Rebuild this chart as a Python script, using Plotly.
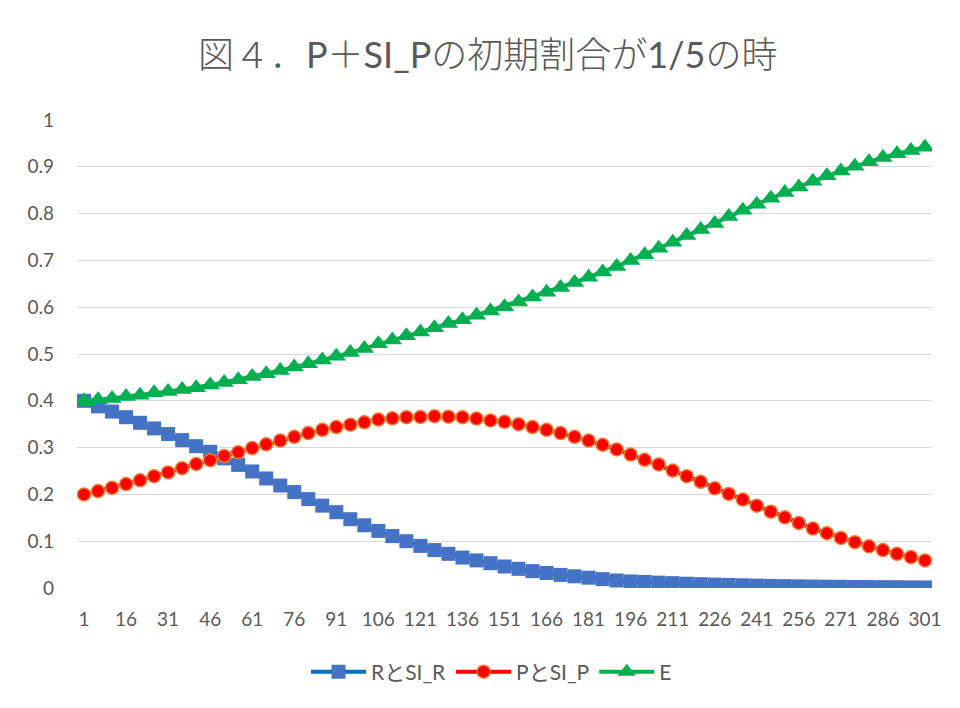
import plotly.graph_objects as go

# Time steps (every 5th step from 1 to 301)
steps = list(range(1, 302, 5))
tick_steps = list(range(1, 302, 15))

# R + SI_R share
r_vals = [0.400, 0.388, 0.377, 0.365, 0.353, 0.341, 0.329, 0.316, 0.303, 0.291,
          0.277, 0.263, 0.249, 0.234, 0.219, 0.205, 0.190, 0.176, 0.162, 0.147,
          0.134, 0.122, 0.111, 0.100, 0.090, 0.081, 0.073, 0.065, 0.059, 0.053,
          0.046, 0.041, 0.036, 0.032, 0.028, 0.025, 0.022, 0.019, 0.016, 0.014,
          0.013, 0.0115, 0.0103, 0.0092, 0.0082, 0.0073, 0.0065, 0.0058, 0.0051, 0.0045,
          0.0040, 0.0036, 0.0032, 0.0028, 0.0025, 0.0022, 0.0020, 0.0018, 0.0016, 0.0014,
          0.0012]

# P + SI_P share
p_vals = [0.200, 0.207, 0.214, 0.222, 0.230, 0.239, 0.247, 0.256, 0.265, 0.273,
          0.282, 0.290, 0.299, 0.307, 0.315, 0.323, 0.331, 0.338, 0.344, 0.349,
          0.354, 0.360, 0.3625, 0.365, 0.3655, 0.367, 0.366, 0.365, 0.362, 0.358,
          0.355, 0.350, 0.344, 0.338, 0.331, 0.323, 0.315, 0.306, 0.296, 0.285,
          0.274, 0.264, 0.251, 0.239, 0.227, 0.213, 0.201, 0.189, 0.176, 0.163,
          0.151, 0.139, 0.127, 0.117, 0.107, 0.098, 0.089, 0.081, 0.073, 0.066,
          0.059]

# E share
e_vals = [0.400, 0.402, 0.405, 0.409, 0.412, 0.417, 0.420, 0.424, 0.428, 0.434,
          0.439, 0.445, 0.452, 0.458, 0.465, 0.472, 0.479, 0.487, 0.495, 0.503,
          0.512, 0.522, 0.530, 0.539, 0.547, 0.556, 0.565, 0.573, 0.583, 0.592,
          0.601, 0.611, 0.622, 0.632, 0.642, 0.653, 0.664, 0.675, 0.687, 0.700,
          0.712, 0.726, 0.739, 0.753, 0.766, 0.779, 0.794, 0.807, 0.820, 0.833,
          0.845, 0.857, 0.869, 0.881, 0.891, 0.901, 0.911, 0.920, 0.928, 0.935,
          0.942]

FONT = "Lato, 'Noto Sans CJK JP', sans-serif"
TEXT = "#595959"


def latin(s):
    # Latin runs of the title use the regular weight
    return f'<span style="font-weight:400">{s}</span>'


title_text = ("図４．" + latin("P") + "＋" + latin("SI_P")
              + "の初期割合が" + latin("1/5") + "の時")

fig = go.Figure()
fig.add_trace(go.Scatter(
    x=steps, y=r_vals, name="RとSI_R", mode="lines+markers",
    line=dict(color="#0070C0", width=4),
    marker=dict(symbol="square", size=14, color="#4472C4",
                line=dict(color="#4472C4", width=0)),
))
fig.add_trace(go.Scatter(
    x=steps, y=p_vals, name="PとSI_P", mode="lines+markers",
    line=dict(color="#FF0000", width=4),
    marker=dict(symbol="circle", size=13, color="#FF0000",
                line=dict(color="#ED7D31", width=1.5)),
))
fig.add_trace(go.Scatter(
    x=steps, y=e_vals, name="E", mode="lines+markers",
    line=dict(color="#00B050", width=4),
    marker=dict(symbol="triangle-up", size=17, color="#00B050",
                line=dict(color="#00B050", width=0)),
))

fig.update_layout(
    width=960, height=708, autosize=False,
    paper_bgcolor="white", plot_bgcolor="white",
    margin=dict(l=77, r=28, t=120, b=120),
    font=dict(family=FONT, color=TEXT, size=18),
    title=dict(
        text=title_text,
        x=0.508, xref="container", xanchor="center",
        y=1 - 55 / 708, yref="container", yanchor="middle",
        font=dict(family=FONT, size=36, color=TEXT, weight=300),
    ),
    showlegend=True,
    legend=dict(
        orientation="h", xref="container", yref="container",
        x=0.512, xanchor="center", y=1 - 672 / 708, yanchor="middle",
        font=dict(family=FONT, size=21, color=TEXT),
        itemwidth=55, traceorder="normal",
        bgcolor="rgba(0,0,0,0)",
    ),
    hovermode=False,
)

fig.update_xaxes(
    range=[-1.5, 303.5], tickmode="array", tickvals=tick_steps,
    ticktext=[str(v) for v in tick_steps],
    showgrid=False, zeroline=False, showline=False, ticks="",
    ticklabelstandoff=18,
    tickfont=dict(family=FONT, size=19, color=TEXT),
)
fig.update_yaxes(
    range=[0, 1], dtick=0.1, tick0=0,
    showgrid=True, gridcolor="#D9D9D9", gridwidth=1.3,
    zeroline=False, showline=False, ticks="",
    ticklabelstandoff=22,
    tickfont=dict(family=FONT, size=19, color=TEXT),
)

fig.write_html("out.html")
